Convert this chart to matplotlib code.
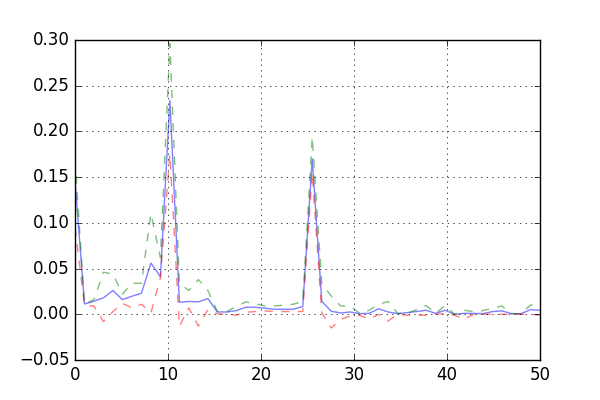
import matplotlib
matplotlib.use("Agg")
import matplotlib.pyplot as plt
import numpy as np

plt.style.use("classic")

# 50 samples spread over 0..50
x = np.linspace(0, 50, 50)

blue = [0.146, 0.0113, 0.0143, 0.018, 0.026, 0.016, 0.0198, 0.023, 0.056, 0.041,
        0.234, 0.0132, 0.014, 0.0136, 0.0172, 0.0026, 0.0025, 0.004, 0.0077, 0.0077,
        0.0066, 0.0055, 0.0055, 0.0055, 0.0085, 0.170, 0.0143, 0.0033, 0.0015, 0.0025,
        0.0007, 0.001, 0.006, 0.0025, 0.0007, 0.0018, 0.003, 0.0044, 0.001, 0.0044,
        0.0, 0.001, 0.001, 0.0007, 0.003, 0.0037, 0.0007, 0.0007, 0.005, 0.0044]

green = [0.17, 0.011, 0.016, 0.046, 0.044, 0.022, 0.034, 0.034, 0.110, 0.062,
         0.296, 0.034, 0.026, 0.038, 0.026, 0.003, 0.003, 0.0085, 0.0136, 0.0114,
         0.009, 0.009, 0.010, 0.011, 0.014, 0.194, 0.034, 0.020, 0.009, 0.009,
         0.001, 0.0044, 0.011, 0.014, 0.001, 0.001, 0.005, 0.0096, 0.001, 0.0096,
         0.0, 0.0044, 0.003, 0.004, 0.0066, 0.009, 0.0007, 0.0007, 0.010, 0.011]

red = [0.095, 0.010, 0.009, -0.008, 0.003, 0.012, 0.007, 0.011, 0.0015, 0.040,
       0.175, -0.013, 0.007, -0.013, 0.005, 0.0005, 0.0, -0.001, 0.0022, 0.003,
       0.0037, 0.003, 0.003, 0.003, 0.003, 0.155, 0.002, -0.015, -0.0055, -0.002,
       -0.001, -0.0055, 0.0, -0.0073, 0.0, -0.001, -0.001, -0.001, 0.0, 0.0007,
       -0.001, -0.0055, 0.0, 0.0, 0.0, 0.0, 0.0, 0.0, 0.0, -0.001]

fig, ax = plt.subplots(figsize=(6, 4), dpi=100)
ax.plot(x, blue, "b-", alpha=0.5)
ax.plot(x, green, "g--", alpha=0.5)
ax.plot(x, red, "r--", alpha=0.5)
ax.set_xlim(0, 50)
ax.set_ylim(-0.05, 0.30)
ax.grid(True)

fig.savefig("out.png", dpi=100)
